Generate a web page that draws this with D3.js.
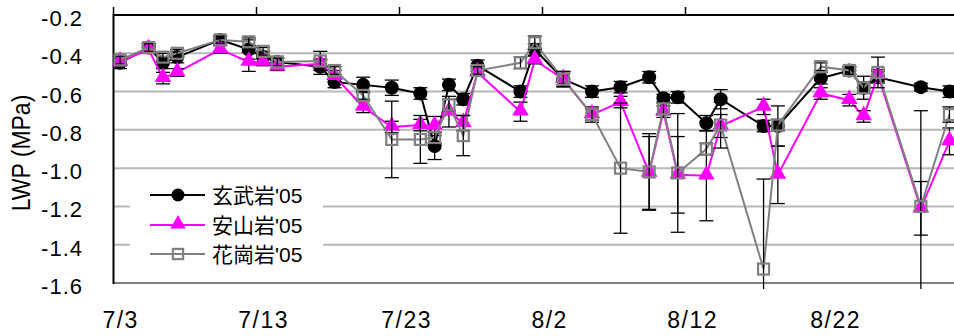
<!DOCTYPE html>
<html>
<head>
<meta charset="utf-8">
<script src="https://cdn.jsdelivr.net/npm/d3@7"></script>
<style>
  body { margin: 0; background: #fff; }
  text { font-family: "Liberation Sans", Arial, "Noto Sans CJK JP", sans-serif; }
</style>
</head>
<body>
<svg id="chart" width="954" height="336"></svg>
<script>
// measurement dates (2005)
const dates = ["07-03","07-05","07-06","07-07","07-10","07-12","07-13","07-14","07-17","07-18",
  "07-20","07-22","07-24","07-25","07-26","07-27","07-28","07-31","08-01","08-03",
  "08-05","08-07","08-09","08-10","08-11","08-13","08-14","08-17","08-18","08-21",
  "08-23","08-24","08-25","08-28","08-30"];

const genbu = [-0.45,-0.37,-0.45,-0.42,-0.33,-0.38,-0.42,-0.445,-0.47,-0.55,
  -0.565,-0.58,-0.61,-0.885,-0.565,-0.64,-0.465,-0.60,-0.38,-0.535,
  -0.60,-0.577,-0.525,-0.635,-0.63,-0.765,-0.64,-0.78,-0.78,-0.53,
  -0.49,-0.58,-0.525,-0.577,-0.60];
const genbuErr = [0.03,0.02,0.03,0.03,0.02,0.05,0.03,0.02,0.04,0.03,
  0.04,0.04,0.03,0.07,0.03,0.03,0.03,0.03,0.03,0.04,
  0.03,0.03,0.03,0.02,0.03,0.04,0.05,0.03,0.105,0.03,
  0.02,0.06,0.03,0.02,0.03];

const anzan = [-0.445,-0.38,-0.53,-0.50,-0.38,-0.445,-0.445,-0.47,-0.455,-0.52,
  -0.68,-0.785,-0.775,-0.78,-0.705,-0.765,-0.50,-0.705,-0.435,-0.535,
  -0.72,-0.655,-1.025,-0.705,-1.035,-1.04,-0.78,-0.68,-1.035,-0.61,
  -0.645,-0.73,-0.515,-1.21,-0.86];
const anzanErr = [0.02,0.02,0.03,0.02,0.02,0.05,0.02,0.02,0.02,0.03,
  0.03,0.03,0.03,0.05,0.08,0.04,0.02,0.05,0.02,0.03,
  0.04,0.03,0.19,0.03,0.20,0.235,0.06,0.04,0.15,0.03,
  0.03,0.03,0.03,0.14,0.07];

const kakou = [-0.435,-0.37,-0.42,-0.40,-0.33,-0.34,-0.39,-0.445,-0.44,-0.49,
  -0.62,-0.85,-0.85,-0.84,-0.67,-0.83,-0.49,-0.45,-0.345,-0.535,
  -0.72,-1.00,-1.02,-0.69,-1.025,-0.90,-0.775,-1.527,-0.775,-0.47,
  -0.49,-0.58,-0.50,-1.20,-0.72];
const kakouErr = [0.02,0.02,0.02,0.02,0.02,0.02,0.02,0.02,0.05,0.02,
  0.02,0.20,0.125,0.03,0.03,0.105,0.02,0.03,0.035,0.04,
  0.03,0.34,0.20,0.03,0.31,0.03,0.12,0.47,0.03,0.02,
  0.02,0.03,0.08,0.50,0.04];

const yTicks = [-0.2,-0.4,-0.6,-0.8,-1.0,-1.2,-1.4,-1.6];
const xTicks = ["07-03","07-13","07-23","08-02","08-12","08-22"];
const xTickLabels = ["7/3","7/13","7/23","8/2","8/12","8/22"];

const seriesNames = ["玄武岩'05","安山岩'05","花崗岩'05"];

const parseDay = d3.timeParse("%Y-%m-%d %H:%M");
const day = (s, t) => parseDay("2005-" + s + " " + (t || "00:00"));

const svg = d3.select("#chart");
const plotLeft = 113.5, plotTop = 15, plotBottom = 283;

const x = d3.scaleTime()
  .domain([day("07-03"), day("09-02")])
  .range([plotLeft, plotLeft + 61 * 14.3]);
const y = d3.scaleLinear().domain([-1.6, -0.2]).range([plotBottom, plotTop]);

// gridlines
svg.append("g").selectAll("line")
  .data(yTicks.filter(v => v > -1.59 && v < -0.21))
  .enter().append("line")
  .attr("x1", plotLeft).attr("x2", 954)
  .attr("y1", d => y(d)).attr("y2", d => y(d))
  .style("stroke", "#b8b8b8").style("stroke-width", 2);

// bottom frame line
svg.append("line")
  .attr("x1", plotLeft).attr("x2", 954).attr("y1", plotBottom).attr("y2", plotBottom)
  .style("stroke", "#808080").style("stroke-width", 2);

// top (date) axis with ticks pointing up
svg.append("line")
  .attr("x1", plotLeft).attr("x2", 954).attr("y1", plotTop).attr("y2", plotTop)
  .style("stroke", "#000").style("stroke-width", 2);
svg.append("g").selectAll("line")
  .data(xTicks).enter().append("line")
  .attr("x1", d => x(day(d))).attr("x2", d => x(day(d)))
  .attr("y1", plotTop - 8).attr("y2", plotTop)
  .style("stroke", "#000").style("stroke-width", 1.5);

// left axis
svg.append("line")
  .attr("x1", plotLeft).attr("x2", plotLeft).attr("y1", plotTop - 1).attr("y2", plotBottom + 1)
  .style("stroke", "#000").style("stroke-width", 2);

// y tick labels
svg.append("g").selectAll("text")
  .data(yTicks).enter().append("text")
  .attr("x", 83).attr("y", d => y(d) + 11)
  .attr("text-anchor", "end")
  .style("font-size", "22px")
  .style("letter-spacing", "1px")
  .text(d => d.toFixed(1));

// x tick labels (centered at midday)
svg.append("g").selectAll("text")
  .data(xTicks).enter().append("text")
  .attr("x", (d, i) => x(day(d, "12:00")))
  .attr("y", 328)
  .attr("text-anchor", "middle")
  .style("font-size", "23px")
  .style("letter-spacing", "1.5px")
  .text((d, i) => xTickLabels[i]);

// y title
svg.append("text")
  .attr("transform", "translate(30,153) rotate(-90) scale(1,1.1)")
  .attr("text-anchor", "middle")
  .style("font-size", "23px")
  .text("LWP (MPa)");

// clip for error bars (they run a little past the bottom frame)
svg.append("clipPath").attr("id", "errclip")
  .append("rect").attr("x", plotLeft).attr("y", 0).attr("width", 954).attr("height", 289);

const series = [
  { vals: genbu, err: genbuErr, color: "#000000", marker: "circle" },
  { vals: anzan, err: anzanErr, color: "#ff00ff", marker: "triangle" },
  { vals: kakou, err: kakouErr, color: "#808080", marker: "square" }
];

// k scales the marker (legend markers are a little smaller)
const drawMarker = (g, type, color, k) => {
  if (type === "circle") {
    g.append("circle").attr("r", 7 * k).style("fill", color);
  } else if (type === "triangle") {
    g.append("path").attr("d", d3.symbol().type(d3.symbolTriangle).size(120 * k * k)())
      .attr("transform", "translate(0,-1)")
      .style("fill", color);
  } else {
    const h = 5.5 * k;
    g.append("rect").attr("x", -h).attr("y", -h).attr("width", 2 * h).attr("height", 2 * h)
      .style("fill", "none").style("stroke", color).style("stroke-width", 2.2);
  }
};

const line = d3.line().x(d => x(d.date)).y(d => y(d.v));

series.forEach(s => {
  const pts = dates.map((dt, i) => ({ date: day(dt, "11:00"), v: s.vals[i], e: s.err[i] }));
  const g = svg.append("g");

  g.append("path").datum(pts)
    .attr("d", line)
    .style("fill", "none").style("stroke", s.color).style("stroke-width", 2);

  const eb = g.append("g").attr("clip-path", "url(#errclip)")
    .selectAll("g").data(pts).enter().append("g")
    .style("stroke", "#000").style("stroke-width", 1.3);
  eb.append("line")
    .attr("x1", d => x(d.date)).attr("x2", d => x(d.date))
    .attr("y1", d => y(d.v + d.e)).attr("y2", d => y(d.v - d.e));
  eb.append("line")
    .attr("x1", d => x(d.date) - 7).attr("x2", d => x(d.date) + 7)
    .attr("y1", d => y(d.v + d.e)).attr("y2", d => y(d.v + d.e));
  eb.append("line")
    .attr("x1", d => x(d.date) - 7).attr("x2", d => x(d.date) + 7)
    .attr("y1", d => y(d.v - d.e)).attr("y2", d => y(d.v - d.e));

  g.selectAll(".mk").data(pts).enter().append("g")
    .attr("class", "mk")
    .attr("transform", d => `translate(${x(d.date)},${y(d.v)})`)
    .each(function() { drawMarker(d3.select(this), s.marker, s.color, 1); });
});

// legend
const legend = svg.append("g");
legend.append("rect")
  .attr("x", 130).attr("y", 172).attr("width", 193).attr("height", 106)
  .style("fill", "#fff");
const rowsY = [195, 225, 254];
series.forEach((s, i) => {
  const row = legend.append("g").attr("transform", `translate(0,${rowsY[i]})`);
  row.append("line").attr("x1", 150).attr("x2", 205).attr("y1", 0).attr("y2", 0)
    .style("stroke", s.color).style("stroke-width", 2);
  drawMarker(row.append("g").attr("transform", "translate(178,0)"), s.marker, s.color, 0.93);
  row.append("text").attr("x", 212).attr("y", 8)
    .style("font-size", "21px")
    .text(seriesNames[i]);
});
</script>
</body>
</html>
